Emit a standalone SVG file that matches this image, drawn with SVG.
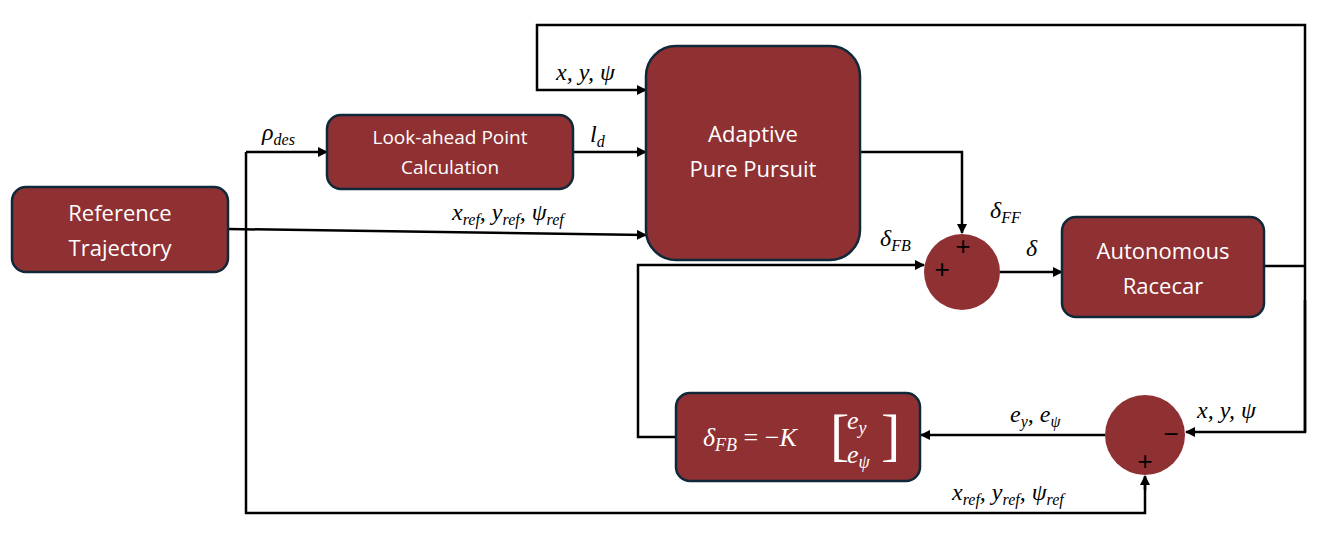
<svg xmlns="http://www.w3.org/2000/svg" width="1330" height="543" viewBox="0 0 1330 543">
<defs>
<marker id="ah" markerWidth="10" markerHeight="10" refX="9" refY="5" orient="auto" markerUnits="userSpaceOnUse"><path d="M0,0 L10,5 L0,10 z" fill="#000"/></marker>
<style>
.box{fill:#8f3033;stroke:#10293a;stroke-width:2.5}
.sum{fill:#8f3033}
.bt{fill:#fff;font-family:"Open Sans","Liberation Sans",sans-serif;font-size:22px;text-anchor:middle}
.m{font-family:"Liberation Serif",serif;font-style:italic;font-size:24px;fill:#000}
.s{font-size:16px}
.w{stroke:#000;stroke-width:2.5;fill:none}
.a{stroke:#000;stroke-width:2.5;fill:none;marker-end:url(#ah)}
.pl{font-family:"Liberation Sans",sans-serif;font-size:26px;fill:#000;text-anchor:middle}
</style>
</defs>
<rect width="1330" height="543" fill="#fff"/>
<g id="connectors">
<path class="a" d="M228,229 L646,235"/>
<path class="w" d="M246,152 L246,513 L1145,513 L1145,477"/>
<path class="a" d="M1145,490 L1145,476"/>
<path class="a" d="M246,152 L327,152"/>
<path class="a" d="M573,152 L646,152"/>
<path class="a" d="M860,152 L962,152 L962,233"/>
<path class="w" d="M1264,266 L1305,266"/>
<path class="a" d="M1305,432 L1305,25 L537,25 L537,90 L646,90"/>
<path class="a" d="M1305,300 L1305,432 L1186,432"/>
<path class="a" d="M1105,435 L921,435"/>
<path class="a" d="M676,437 L638,437 L638,265 L924,265"/>
<path class="a" d="M1000,272 L1062,272"/>
</g>
<g id="ref"><rect class="box" x="12" y="187" width="216" height="85" rx="14"/><text class="bt" x="120" y="221">Reference</text><text class="bt" x="120" y="256">Trajectory</text></g>
<g id="lookahead"><rect class="box" x="327" y="115" width="246" height="74" rx="14"/><text class="bt" x="450" y="144" style="font-size:19px">Look-ahead Point</text><text class="bt" x="450" y="174" style="font-size:19px">Calculation</text></g>
<g id="app"><rect class="box" x="646" y="46" width="214" height="214" rx="30"/><text class="bt" x="753" y="142">Adaptive</text><text class="bt" x="753" y="177">Pure Pursuit</text></g>
<g id="racecar"><rect class="box" x="1062" y="217" width="202" height="100" rx="14"/><text class="bt" x="1163" y="259">Autonomous</text><text class="bt" x="1163" y="294">Racecar</text></g>
<g id="fb"><rect class="box" x="676" y="393" width="244" height="88" rx="14"/>
<text x="703" y="446" style="font-family:'Liberation Serif',serif;font-size:26px;fill:#fff"><tspan font-style="italic">δ</tspan><tspan font-style="italic" font-size="18" dy="5">FB</tspan><tspan dy="-5"> = −</tspan><tspan font-style="italic">K</tspan></text>
<text x="830" y="454" style="font-family:'Liberation Serif',serif;font-size:58px;fill:#fff;font-weight:100">[</text>
<text x="881" y="454" style="font-family:'Liberation Serif',serif;font-size:58px;fill:#fff;font-weight:100">]</text>
<text x="847" y="429" style="font-family:'Liberation Serif',serif;font-style:italic;font-size:26px;fill:#fff">e<tspan font-size="18" dy="5">y</tspan></text>
<text x="847" y="463" style="font-family:'Liberation Serif',serif;font-style:italic;font-size:26px;fill:#fff">e<tspan font-size="18" dy="5">ψ</tspan></text>
</g>
<g id="sum1"><circle class="sum" cx="962" cy="272" r="38"/><text class="pl" x="963" y="255">+</text><text class="pl" x="942" y="278">+</text></g>
<g id="sum2"><circle class="sum" cx="1145" cy="435" r="40"/><text class="pl" x="1171" y="443">−</text><text class="pl" x="1145" y="470">+</text></g>
<g id="labels">
<text class="m" x="262" y="140">ρ<tspan class="s" dy="5">des</tspan></text>
<text class="m" x="590" y="142">l<tspan class="s" dy="5">d</tspan></text>
<text class="m" x="556" y="80">x, y, ψ</text>
<text class="m" x="452" y="220">x<tspan class="s" dy="5">ref</tspan><tspan dy="-5">, y</tspan><tspan class="s" dy="5">ref</tspan><tspan dy="-5">, ψ</tspan><tspan class="s" dy="5">ref</tspan></text>
<text class="m" x="990" y="218">δ<tspan class="s" dy="5">FF</tspan></text>
<text class="m" x="880" y="246">δ<tspan class="s" dy="5">FB</tspan></text>
<text class="m" x="1026" y="256">δ</text>
<text class="m" x="1197" y="418">x, y, ψ</text>
<text class="m" x="1010" y="422">e<tspan class="s" dy="5">y</tspan><tspan dy="-5">, e</tspan><tspan class="s" dy="5">ψ</tspan></text>
<text class="m" x="952" y="500">x<tspan class="s" dy="5">ref</tspan><tspan dy="-5">, y</tspan><tspan class="s" dy="5">ref</tspan><tspan dy="-5">, ψ</tspan><tspan class="s" dy="5">ref</tspan></text>
</g>
</svg>
